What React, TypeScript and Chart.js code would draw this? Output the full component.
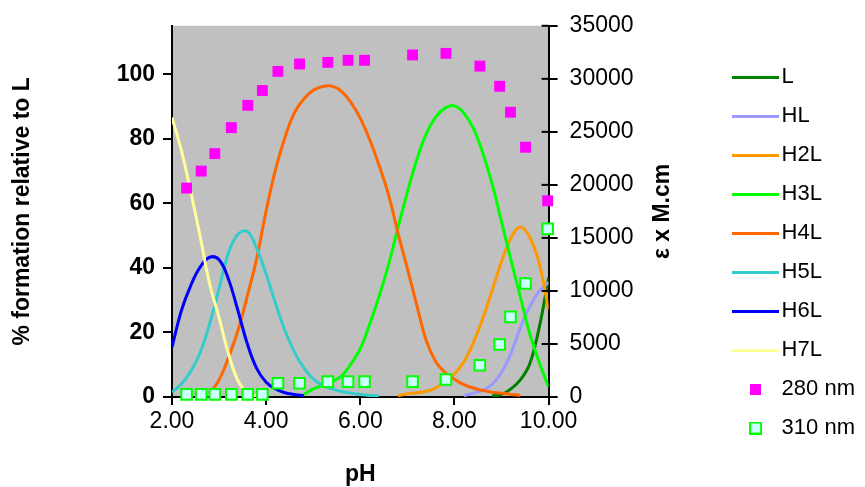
import React, { useEffect, useRef } from 'react';
import { Chart, registerables } from 'chart.js';

Chart.register(...registerables);

const FONT = '"Liberation Sans", Arial, sans-serif';

// pH grid for the species distribution curves
const PH_GRID = [
  2.0, 2.2, 2.4, 2.6, 2.8, 3.0, 3.2, 3.4, 3.6, 3.8,
  4.0, 4.2, 4.4, 4.6, 4.8, 5.0, 5.2, 5.4, 5.6, 5.8,
  6.0, 6.2, 6.4, 6.6, 6.8, 7.0, 7.2, 7.4, 7.6, 7.8,
  8.0, 8.2, 8.4, 8.6, 8.8, 9.0, 9.2, 9.4, 9.6, 9.8, 10.0,
];

const n = null;

// % formation relative to L
const L_PCT = [
  n, n, n, n, n, n, n, n, n, n,
  n, n, n, n, n, n, n, n, n, n,
  n, n, n, n, n, n, n, n, n, n,
  n, n, n, n, 0.3, 0.8, 2.5, 5.3, 10.3, 21.5, 37,
];
const HL_PCT = [
  n, n, n, n, n, n, n, n, n, n,
  n, n, n, n, n, n, n, n, n, n,
  n, n, n, n, n, n, n, n, n, n,
  n, 0.4, 1.2, 2.1, 3.9, 7.6, 13.5, 21.5, 28, 32.8, 35.5,
];
const H2L_PCT = [
  n, n, n, n, n, n, n, n, n, n,
  n, n, n, n, n, n, n, n, n, n,
  n, n, n, n, 0.4, 1.0, 1.3, 1.8, 2.8, 4.8,
  7.1, 10.9, 16.8, 24.3, 33, 42, 49.3, 52.7, 49.5, 41.5, 27,
];
const H3L_PCT = [
  n, n, n, n, n, n, n, n, n, n,
  n, n, n, n, 0.8, 2.5, 3.6, 4.8, 6.5, 10.2,
  15, 22.6, 31.2, 41, 52.4, 63.5, 73.5, 81.5, 86.7, 89.5,
  90.2, 88, 83.3, 75.7, 66, 54.3, 42.5, 31, 19.6, 10.8, 3,
];
const H4L_PCT = [
  n, n, n, n, 1.0, 5.3, 12.2, 20.6, 31.3, 43,
  57.7, 70.5, 80.5, 88, 92.3, 95, 96.2, 96.3, 94.7, 91.3,
  86.3, 79.7, 71.7, 62.6, 50.8, 39.8, 28.5, 17.5, 11, 7.6,
  5.5, 3.8, 2.8, 2, 1.5, 1.2, 0.8, 0.5, n, n, n,
];
const H5L_PCT = [
  1.5, 4, 8, 13.8, 22.7, 33.6, 44.7, 50.4, 51.3, 46,
  38, 29, 20.5, 14, 9, 5.6, 3.6, 2.5, 1.7, 1.2,
  0.8, 0.5, 0.3, n, n, n, n, n, n, n,
  n, n, n, n, n, n, n, n, n, n, n,
];
const H6L_PCT = [
  15.4, 26.8, 34.6, 40.3, 43.3, 42.5, 36.5, 26.8, 16.5, 8.8,
  4.6, 2.5, 1.3, 0.8, 0.4, n, n, n, n, n,
  n, n, n, n, n, n, n, n, n, n,
  n, n, n, n, n, n, n, n, n, n, n,
];
const H7L_PCT = [
  86.6, 76.3, 63.5, 49.6, 35, 24.6, 13.4, 5.1, 1.3, 0.3,
  n, n, n, n, n, n, n, n, n, n,
  n, n, n, n, n, n, n, n, n, n,
  n, n, n, n, n, n, n, n, n, n, n,
];

const SPECIES = ['L', 'HL', 'H2L', 'H3L', 'H4L', 'H5L', 'H6L', 'H7L'];
const SPECIES_COLORS = ['#008000', '#9999FF', '#FF9900', '#00FF00', '#FF6600', '#33CCCC', '#0000FF', '#FFFF99'];

// measured absorbance points (epsilon x M.cm)
const PH_SPEC = [2.31, 2.62, 2.91, 3.26, 3.61, 3.92, 4.25, 4.71, 5.31, 5.74, 6.09, 7.11, 7.82, 8.54, 8.96, 9.19, 9.51, 9.98];
const ABS_280 = [19700, 21300, 22950, 25400, 27500, 28900, 30700, 31400, 31550, 31750, 31750, 32250, 32400, 31200, 29300, 26850, 23550, 18500];
const ABS_310 = [250, 250, 250, 250, 250, 250, 1300, 1300, 1450, 1450, 1450, 1450, 1650, 3000, 4950, 7550, 10700, 15850];

const X_TICKS = [2, 4, 6, 8, 10];
const LEFT_TICKS = [0, 20, 40, 60, 80, 100];
const RIGHT_TICKS = [0, 5000, 10000, 15000, 20000, 25000, 30000, 35000];

const PLOT_BG = '#C0C0C0';

export default function App() {
  const ref = useRef<HTMLCanvasElement>(null);

  useEffect(() => {
    const canvas = ref.current;
    if (!canvas) return;

    const makeLineIcon = (color: string) => {
      const c = document.createElement('canvas');
      c.width = 47;
      c.height = 3;
      const g = c.getContext('2d')!;
      g.fillStyle = color;
      g.fillRect(0, 0, 47, 3);
      return c;
    };
    const makeSquareIcon = (fill: string, stroke: string | null, size: number) => {
      const c = document.createElement('canvas');
      c.width = size;
      c.height = size;
      const g = c.getContext('2d')!;
      if (stroke) {
        g.fillStyle = stroke;
        g.fillRect(0, 0, size, size);
        g.fillStyle = fill;
        g.fillRect(2, 2, size - 4, size - 4);
      } else {
        g.fillStyle = fill;
        g.fillRect(0, 0, size, size);
      }
      return c;
    };

    const icons: any[] = [
      ...SPECIES_COLORS.map((c) => makeLineIcon(c)),
      makeSquareIcon('#FF00FF', null, 11),
      makeSquareIcon('#CCFFFF', '#00FF00', 13),
    ];

    const speciesData = [L_PCT, HL_PCT, H2L_PCT, H3L_PCT, H4L_PCT, H5L_PCT, H6L_PCT, H7L_PCT];

    const datasets: any[] = SPECIES.map((name, i) => ({
      label: name,
      data: PH_GRID.map((x, j) => ({ x, y: speciesData[i][j] })),
      borderColor: SPECIES_COLORS[i],
      backgroundColor: SPECIES_COLORS[i],
      borderWidth: 3,
      pointRadius: 0,
      pointHoverRadius: 0,
      tension: 0.4,
      spanGaps: false,
      fill: false,
      yAxisID: 'y',
      order: 100 - i,
    }));

    datasets.push({
      label: '280 nm',
      data: PH_SPEC.map((x, j) => ({ x, y: ABS_280[j] })),
      showLine: false,
      pointStyle: 'rect',
      pointRadius: 7.7,
      pointHoverRadius: 7.7,
      pointBorderWidth: 0,
      pointBackgroundColor: '#FF00FF',
      backgroundColor: '#FF00FF',
      borderColor: '#FF00FF',
      yAxisID: 'y1',
      order: 92,
      clip: false,
    });
    datasets.push({
      label: '310 nm',
      data: PH_SPEC.map((x, j) => ({ x, y: ABS_310[j] })),
      showLine: false,
      pointStyle: 'rect',
      pointRadius: 7.5,
      pointHoverRadius: 7.5,
      pointBorderWidth: 2,
      pointBorderColor: '#00FF00',
      pointBackgroundColor: '#CCFFFF',
      backgroundColor: '#CCFFFF',
      borderColor: '#00FF00',
      yAxisID: 'y1',
      order: 91,
      clip: false,
    });

    const decorPlugin = {
      id: 'decor',
      beforeDraw(chart: any) {
        const { ctx, chartArea: a } = chart;
        ctx.save();
        ctx.fillStyle = '#FFFFFF';
        ctx.fillRect(0, 0, chart.width, chart.height);
        ctx.fillStyle = PLOT_BG;
        ctx.fillRect(a.left, a.top, a.right - a.left, a.bottom - a.top);
        ctx.restore();
      },
      afterDraw(chart: any) {
        const { ctx, chartArea: a } = chart;
        const s = chart.scales.y1;
        ctx.save();
        ctx.strokeStyle = '#000';
        ctx.lineWidth = 2;
        s.ticks.forEach((t: any) => {
          const y = s.getPixelForValue(t.value);
          ctx.beginPath();
          ctx.moveTo(a.right - 7, y);
          ctx.lineTo(a.right, y);
          ctx.stroke();
        });
        ctx.translate(a.right + 114, (a.top + a.bottom) / 2);
        ctx.rotate(-Math.PI / 2);
        ctx.fillStyle = '#000';
        ctx.font = `bold 23px ${FONT}`;
        ctx.textAlign = 'center';
        ctx.textBaseline = 'middle';
        ctx.fillText('\u03b5 x M.cm', 0, 0);
        ctx.restore();
      },
    };

    const axisGrid = (len: number) => ({
      drawOnChartArea: false,
      drawTicks: true,
      tickLength: len,
      color: '#000',
      lineWidth: 2,
    });
    const axisBorder = { color: '#000', width: 2 };

    const chart = new Chart(canvas, {
      type: 'line',
      data: { datasets },
      plugins: [decorPlugin],
      options: {
        responsive: false,
        animation: false,
        devicePixelRatio: 1,
        events: [],
        layout: { padding: { top: 24, left: 0, right: 0, bottom: 0 } },
        font: { family: FONT },
        scales: {
          x: {
            type: 'linear',
            position: 'bottom',
            min: 2,
            max: 10,
            afterFit: (s: any) => { s.height = 90; },
            afterBuildTicks: (s: any) => { s.ticks = X_TICKS.map((v) => ({ value: v })); },
            ticks: {
              callback: (v: any) => Number(v).toFixed(2),
              font: { family: FONT, size: 23 },
              color: '#000',
              padding: 3,
              maxRotation: 0,
              autoSkip: false,
            },
            grid: axisGrid(8),
            border: axisBorder,
            title: {
              display: true,
              text: 'pH',
              font: { family: FONT, size: 23, weight: 'bold' },
              color: '#000',
              padding: { top: 0, bottom: -1 },
            },
          },
          y: {
            type: 'linear',
            position: 'left',
            min: 0,
            max: 115,
            afterFit: (s: any) => { s.width = 172; },
            afterBuildTicks: (s: any) => { s.ticks = LEFT_TICKS.map((v) => ({ value: v })); },
            ticks: {
              callback: (v: any) => String(v),
              font: { family: FONT, size: 23, weight: 'bold' },
              color: '#000',
              padding: 8,
            },
            grid: axisGrid(9),
            border: axisBorder,
            title: {
              display: true,
              text: '% formation relative to L',
              font: { family: FONT, size: 23, weight: 'bold' },
              color: '#000',
              padding: { top: 9, bottom: 0 },
            },
          },
          y1: {
            type: 'linear',
            position: 'right',
            min: 0,
            max: 35000,
            afterFit: (s: any) => { s.width = 175; },
            afterBuildTicks: (s: any) => { s.ticks = RIGHT_TICKS.map((v) => ({ value: v })); },
            ticks: {
              callback: (v: any) => String(v),
              font: { family: FONT, size: 23 },
              color: '#000',
              padding: 12,
            },
            grid: axisGrid(9),
            border: axisBorder,
          },
        },
        plugins: {
          tooltip: { enabled: false },
          legend: {
            position: 'right',
            align: 'start',
            title: {
              display: true,
              text: '',
              font: { size: 10 },
              padding: { top: 13, bottom: 0 },
            },
            labels: {
              usePointStyle: true,
              pointStyleWidth: 30,
              padding: 17,
              color: '#000',
              font: { family: FONT, size: 22 },
              sort: (a: any, b: any) => a.datasetIndex - b.datasetIndex,
              generateLabels: (ch: any) => {
                const items = (Chart.defaults.plugins.legend.labels as any).generateLabels(ch);
                items.forEach((it: any) => {
                  it.pointStyle = icons[it.datasetIndex];
                  it.fontColor = '#000';
                });
                return items;
              },
            },
          },
        },
      } as any,
    });

    return () => chart.destroy();
  }, []);

  return (
    <div style={{ position: 'fixed', left: 0, top: 0, width: 865, height: 487, background: '#fff' }}>
      <canvas ref={ref} width={865} height={487} style={{ display: 'block', width: 865, height: 487 }} />
    </div>
  );
}
